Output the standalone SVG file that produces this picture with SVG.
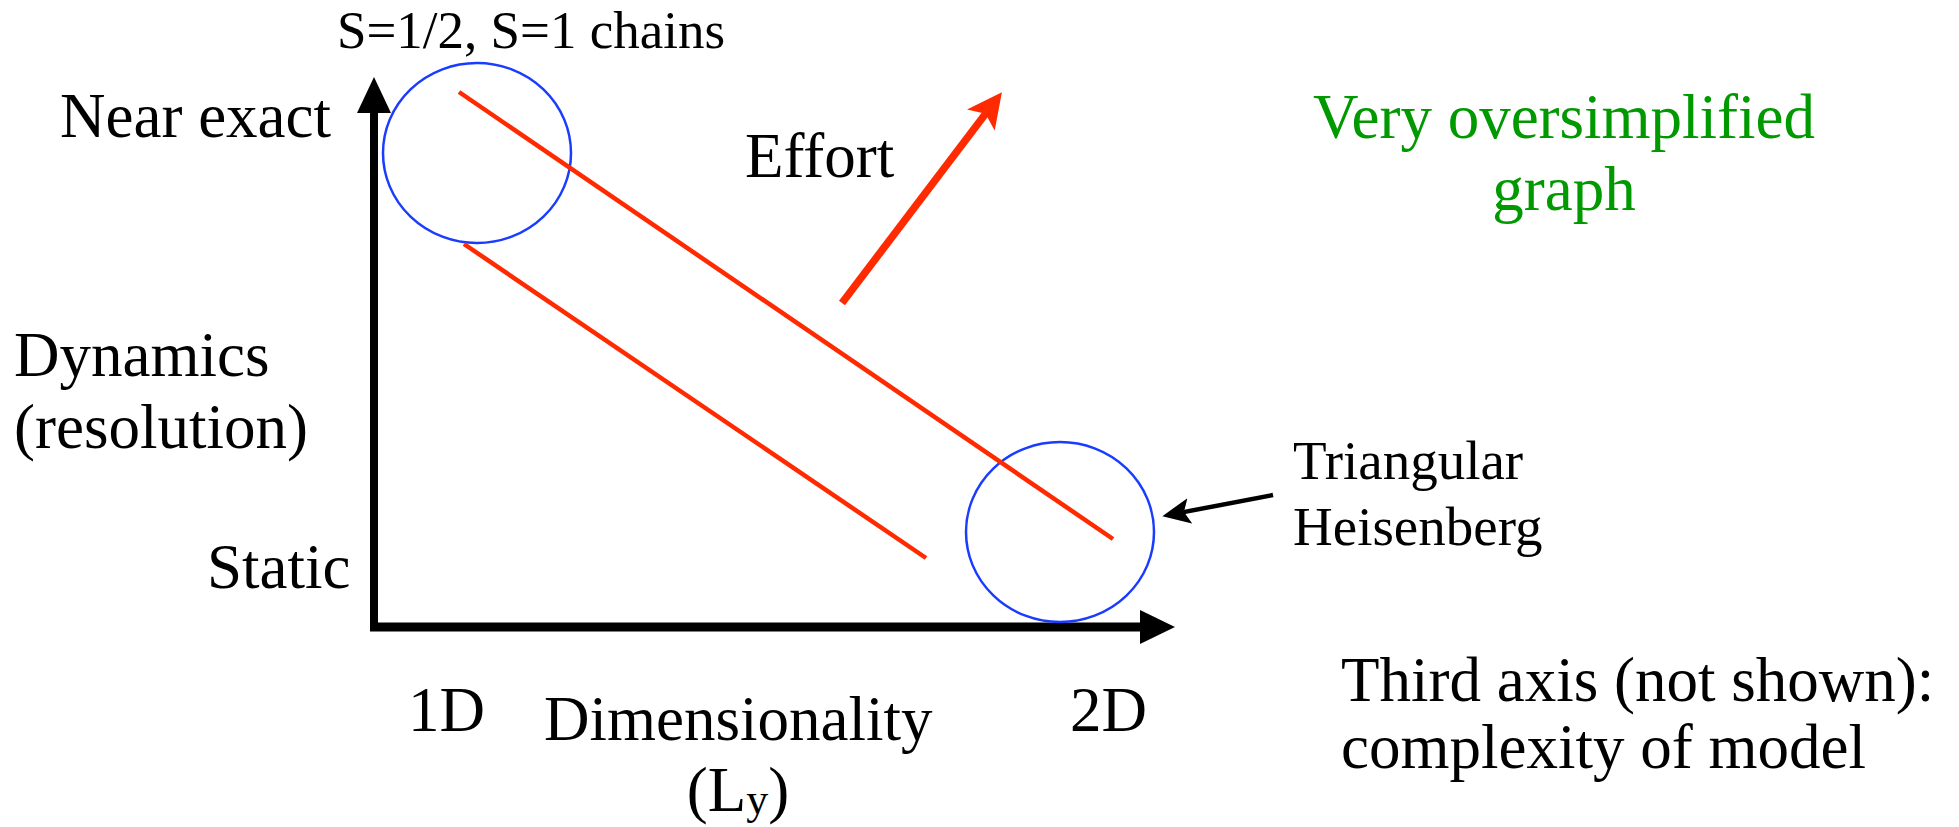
<svg xmlns="http://www.w3.org/2000/svg" width="1959" height="827" viewBox="0 0 1959 827">
<style>
.lbl{font-family:'Liberation Serif','Times New Roman',serif}
.big{font-size:63px}
.mid{font-size:55px}
.sm{font-size:53px}
.green{fill:#009900}
.ring{fill:none;stroke:#1a3cff;stroke-width:2.5}
.red{stroke:#ff2a00;stroke-width:4.5;fill:none}
</style>
<defs>
<marker id="redhead" markerUnits="userSpaceOnUse" markerWidth="35" markerHeight="35" refX="12" refY="17.5" orient="auto">
<path d="M0,0 L35,17.5 L0,35 L8,17.5 Z" fill="#ff2a00"/>
</marker>
<marker id="blackhead" markerUnits="userSpaceOnUse" markerWidth="28" markerHeight="26" refX="9" refY="13" orient="auto">
<path d="M0,0 L28,13 L0,26 L6,13 Z" fill="#000"/>
</marker>
</defs>
<rect width="1959" height="827" fill="#fff"/>
<g id="axes">
<line x1="374" y1="631" x2="374" y2="108" stroke="#000" stroke-width="8"/>
<path d="M374,77 L357,113 L391,113 Z" fill="#000"/>
<line x1="370" y1="627" x2="1145" y2="627" stroke="#000" stroke-width="9"/>
<path d="M1175,627 L1140,610 L1140,644 Z" fill="#000"/>
</g>
<g id="chains-circle"><ellipse class="ring" cx="477" cy="153" rx="94" ry="90"/></g>
<g id="triangular-circle"><ellipse class="ring" cx="1060" cy="532" rx="94" ry="90"/></g>
<g id="connectors">
<line class="red" x1="459" y1="92" x2="1113" y2="539"/>
<line class="red" x1="464" y1="244" x2="926" y2="558"/>
<line x1="842" y1="303" x2="988" y2="110.5" stroke="#ff2a00" stroke-width="7.5" marker-end="url(#redhead)"/>
<line x1="1273" y1="495" x2="1181" y2="512.6" stroke="#000" stroke-width="4.5" marker-end="url(#blackhead)"/>
</g>
<g id="labels" class="lbl" font-family="'Liberation Serif', 'Times New Roman', serif" fill="#000">
<text class="sm" x="337" y="48">S=1/2, S=1 chains</text>
<text class="big" x="60" y="137">Near exact</text>
<text class="big" x="745" y="177">Effort</text>
<text class="big" x="14" y="376">Dynamics</text>
<text class="big" x="14" y="448">(resolution)</text>
<text class="big" x="207" y="588">Static</text>
<text class="big" x="408" y="731">1D</text>
<text class="big" x="544" y="740">Dimensionality</text>
<text class="big" x="738" y="811" text-anchor="middle">(L<tspan font-size="44" dy="3">y</tspan><tspan dy="-3">)</tspan></text>
<text class="big" x="1070" y="731">2D</text>
<text class="mid" x="1293" y="479">Triangular</text>
<text class="mid" x="1293" y="545">Heisenberg</text>
<text class="big green" x="1564" y="138" text-anchor="middle">Very oversimplified</text>
<text class="big green" x="1564" y="210" text-anchor="middle">graph</text>
<text class="big" x="1341" y="701">Third axis (not shown):</text>
<text class="big" x="1341" y="768">complexity of model</text>
</g>
</svg>
